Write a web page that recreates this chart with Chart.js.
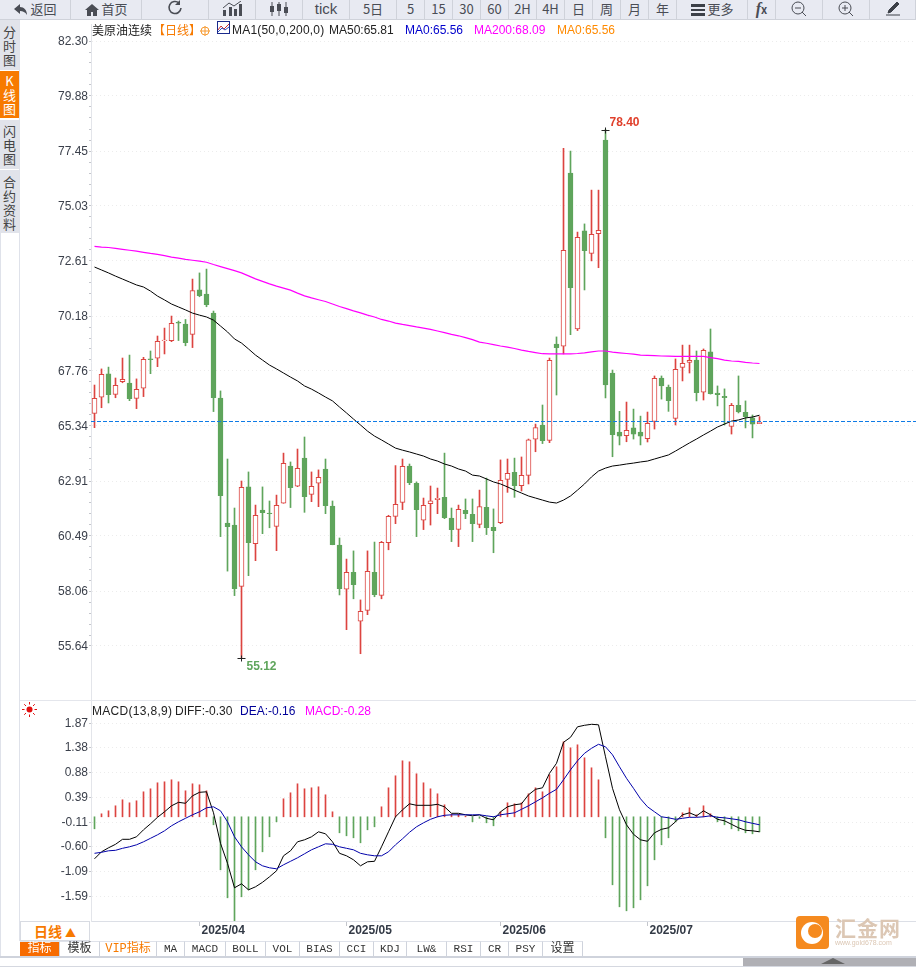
<!DOCTYPE html>
<html lang="zh-CN">
<head>
<meta charset="utf-8">
<title>美原油连续 日线</title>
<script src="https://cdn.jsdelivr.net/npm/chart.js@4/dist/chart.umd.min.js"></script>
<style>
html, body { margin: 0; padding: 0; background: #fff; }
#page { position: relative; width: 916px; height: 971px; overflow: hidden; background: #fff;
    font-family: "Liberation Sans", "Noto Sans CJK SC", sans-serif; font-size: 12px; color: #333; }
#page > * { position: absolute; }
canvas { display: block; }
#priceCanvasBox { left: 20px; top: 19px; width: 897px; height: 681px; }
#macdCanvasBox { left: 20px; top: 700px; width: 897px; height: 241px; }
#toolbar { left: 0; top: 0; width: 916px; height: 19px; background: #e8eaf2; border-bottom: 1px solid #cfd2da; }
.tool { position: absolute; top: 0; height: 19px; line-height: 17px; text-align: center; font-size: 13px;
    color: #4a4d55; border-right: 1px solid #cfd2da; box-sizing: border-box;
    font-family: "Noto Sans CJK SC", "Liberation Sans", sans-serif; }
.tool svg { vertical-align: -2px; }
.side { position: absolute; left: 0; width: 19px; background: #e1e3ea; text-align: center; font-size: 13px; line-height: 14px;
    color: #444; font-family: "Noto Sans CJK SC", sans-serif; box-sizing: border-box; padding: 5px 3px 0; word-break: break-all; }
#sideRule { left: 19px; top: 20px; width: 1px; height: 921px; background: #dfe2ea; }
#sideRuleLeft { left: 0; top: 233px; width: 1px; height: 724px; background: #dfe2ea; }
.legend { white-space: nowrap; line-height: 14px; }
#panelRule { left: 20px; top: 700px; width: 896px; height: 1px; background: #e4e6ec; }
#periodBox { left: 20px; top: 921px; width: 70px; height: 20px; box-sizing: border-box; border: 1px solid #d8dbe2; background: #fff;
    color: #f77a00; font-size: 14px; font-weight: bold; line-height: 19px; text-align: center;
    font-family: "Noto Sans CJK SC", sans-serif; }
.tab { position: absolute; top: 941px; height: 16px; line-height: 14px; box-sizing: border-box; text-align: center;
    border-right: 1px solid #cfd3dc; border-top: 1px solid #dfe2ea; font-size: 11px; color: #333;
    font-family: "Liberation Mono", "Noto Sans CJK SC", monospace; }
#bottomRule { left: 0; top: 956px; width: 916px; height: 2px; background: #cfd3dc; }
#bottomRule2 { left: 0; top: 966px; width: 916px; height: 1px; background: #d5d8e0; }
#scrollThumb { left: 743px; top: 958px; width: 173px; height: 8px; background: #b0b0b5; }
#scrollMark { left: 821px; top: 958px; width: 0; height: 0; border-left: 12px solid transparent; border-right: 12px solid transparent;
    border-bottom: 6px solid #666; }
#brandText { left: 835px; top: 914px; font-size: 21px; letter-spacing: 1px; color: #dcc7b4; font-weight: bold;
    font-family: "Noto Sans CJK SC", sans-serif; white-space: nowrap; line-height: 26px; }
#brandUrl { left: 835px; top: 939px; font-size: 7px; color: #dcc7b4; white-space: nowrap; }
</style>
</head>
<body>
<div id="page">
    <div id="priceCanvasBox"><canvas id="priceChart" width="897" height="681"></canvas></div>
    <div id="macdCanvasBox"><canvas id="macdChart" width="897" height="241"></canvas></div>

    <div id="toolbar"></div>
    <div id="sideRule"></div>
    <div id="sideRuleLeft"></div>
    <div id="sidebar"></div>
    <div id="panelRule"></div>

    <div class="legend" style="left:92px;top:23px;font-family:'Noto Sans CJK SC',sans-serif;color:#222;">美原油连续</div>
    <div class="legend" style="left:153px;top:23px;font-family:'Noto Sans CJK SC',sans-serif;color:#f77a00;">【日线】</div>
    <svg style="left:200px;top:26px;" width="10" height="10" viewBox="0 0 10 10"><circle cx="5" cy="5" r="4" fill="none" stroke="#f79a30"/><path d="M0 5h10M5 0v10" stroke="#f79a30"/></svg>
    <svg style="left:217px;top:21px;" width="13" height="13" viewBox="0 0 13 13"><rect x="0.5" y="0.5" width="12" height="12" fill="#fff" stroke="#1a2a8c"/><path d="M1 9l3-4 3 3 5-5" fill="none" stroke="#d03030"/><path d="M1 11l4-4 3 2 4-3" fill="none" stroke="#3050c0"/></svg>
    <div class="legend" style="left:232px;top:23px;color:#222;letter-spacing:0.2px;">MA1(50,0,200,0)</div>
    <div class="legend" style="left:329px;top:23px;color:#222;">MA50:65.81</div>
    <div class="legend" style="left:405px;top:23px;color:#0000cc;">MA0:65.56</div>
    <div class="legend" style="left:474px;top:23px;color:#ff00ff;">MA200:68.09</div>
    <div class="legend" style="left:557px;top:23px;color:#ff8a00;">MA0:65.56</div>

    <svg style="left:22px;top:702px;" width="15" height="15" viewBox="0 0 15 15"><circle cx="7.5" cy="7.5" r="3" fill="#e01010"/><path d="M7.5 0v2.5M7.5 12.5V15M0 7.5h2.5M12.5 7.5H15M2.2 2.2l1.8 1.8M11 11l1.8 1.8M2.2 12.8L4 11M11 4l1.8-1.8" stroke="#e01010"/></svg>
    <div class="legend" style="left:92px;top:704px;color:#222;letter-spacing:0.3px;">MACD(13,8,9)</div>
    <div class="legend" style="left:175px;top:704px;color:#222;">DIFF:-0.30</div>
    <div class="legend" style="left:240px;top:704px;color:#000099;">DEA:-0.16</div>
    <div class="legend" style="left:305px;top:704px;color:#ff00ff;">MACD:-0.28</div>

    <div id="periodBox">日线 <span style="font-size:11px;">▲</span></div>
    <div id="tabs"></div>
    <div id="bottomRule"></div>
    <div id="bottomRule2"></div>
    <div id="scrollThumb"></div>
    <div id="scrollMark"></div>

    <svg style="left:796px;top:916px;" width="33" height="33" viewBox="0 0 33 33"><rect width="33" height="33" rx="4" fill="#f58a1f"/><circle cx="16" cy="17" r="11" fill="#fff"/><circle cx="19" cy="15" r="7" fill="#f58a1f"/></svg>
    <div id="brandText">汇金网</div>
    <div id="brandUrl">www.gold678.com</div>
</div>

<script>
const dates = [
    "2025/03/11", "2025/03/12", "2025/03/13", "2025/03/14", "2025/03/17", "2025/03/18", "2025/03/19", "2025/03/20",
    "2025/03/21", "2025/03/24", "2025/03/25", "2025/03/26", "2025/03/27", "2025/03/28", "2025/03/31", "2025/04/01",
    "2025/04/02", "2025/04/03", "2025/04/04", "2025/04/07", "2025/04/08", "2025/04/09", "2025/04/10", "2025/04/11",
    "2025/04/14", "2025/04/15", "2025/04/16", "2025/04/17", "2025/04/21", "2025/04/22", "2025/04/23", "2025/04/24",
    "2025/04/25", "2025/04/28", "2025/04/29", "2025/04/30", "2025/05/01", "2025/05/02", "2025/05/05", "2025/05/06",
    "2025/05/07", "2025/05/08", "2025/05/09", "2025/05/12", "2025/05/13", "2025/05/14", "2025/05/15", "2025/05/16",
    "2025/05/19", "2025/05/20", "2025/05/21", "2025/05/22", "2025/05/23", "2025/05/26", "2025/05/27", "2025/05/28",
    "2025/05/29", "2025/05/30", "2025/06/02", "2025/06/03", "2025/06/04", "2025/06/05", "2025/06/06", "2025/06/09",
    "2025/06/10", "2025/06/11", "2025/06/12", "2025/06/13", "2025/06/16", "2025/06/17", "2025/06/18", "2025/06/19",
    "2025/06/20", "2025/06/23", "2025/06/24", "2025/06/25", "2025/06/26", "2025/06/27", "2025/06/30", "2025/07/01",
    "2025/07/02", "2025/07/03", "2025/07/04", "2025/07/07", "2025/07/08", "2025/07/09", "2025/07/10", "2025/07/11",
    "2025/07/14", "2025/07/15", "2025/07/16", "2025/07/17", "2025/07/18", "2025/07/21", "2025/07/22", "2025/07/23"
];

const opens = [
    65.89, 66.60, 67.63, 66.73, 67.29, 67.23, 66.55, 67.00,
    68.29, 68.32, 69.10, 69.10, 69.90, 69.83, 69.37, 71.33,
    71.15, 70.31, 66.57, 61.06, 60.97, 58.27, 62.65, 60.15,
    61.63, 61.50, 60.91, 61.93, 63.57, 62.68, 63.92, 62.32,
    62.81, 63.44, 61.81, 60.09, 58.14, 58.89, 56.73, 57.21,
    58.89, 57.87, 60.19, 61.35, 61.97, 63.57, 62.81, 61.18,
    61.91, 62.09, 62.19, 61.28, 60.78, 61.62, 61.44, 61.00,
    61.75, 60.87, 61.07, 62.98, 63.29, 62.70, 63.16, 64.75,
    65.38, 64.70, 68.95, 68.85, 76.48, 69.61, 73.93, 72.94,
    73.81, 77.94, 67.67, 65.07, 64.91, 65.25, 65.07, 64.78,
    65.54, 67.45, 67.05, 65.67, 67.92, 68.14, 68.24, 66.82,
    68.60, 66.79, 66.64, 65.32, 66.25, 65.94, 65.70, 65.44
];
const closes = [
    66.55, 67.61, 66.72, 67.13, 67.39, 66.54, 66.95, 68.27,
    68.26, 69.07, 69.12, 69.86, 69.87, 69.01, 71.30, 71.08,
    70.68, 66.58, 62.26, 60.90, 58.17, 62.63, 60.19, 61.40,
    61.51, 61.47, 61.84, 63.69, 62.62, 63.47, 62.22, 62.68,
    63.07, 61.82, 60.10, 58.17, 58.89, 58.34, 57.17, 58.93,
    57.90, 60.21, 61.35, 61.88, 63.56, 62.84, 61.65, 61.84,
    62.04, 62.15, 61.29, 60.77, 61.66, 61.47, 61.03, 61.78,
    60.85, 60.72, 62.94, 63.25, 62.70, 63.16, 64.72, 65.26,
    64.69, 68.23, 68.79, 73.08, 71.43, 73.65, 73.06, 73.78,
    73.96, 67.14, 64.95, 64.89, 65.14, 64.98, 64.89, 65.45,
    67.43, 67.10, 66.45, 67.83, 68.10, 68.23, 66.80, 68.67,
    66.76, 66.72, 66.58, 66.25, 65.95, 65.75, 65.41, 65.50
];
const highs = [
    67.14, 67.85, 67.93, 67.45, 68.33, 68.46, 67.41, 68.36,
    68.64, 69.30, 69.65, 70.18, 69.96, 70.03, 71.81, 72.08,
    72.25, 70.40, 66.88, 63.88, 61.72, 62.91, 63.31, 61.85,
    62.65, 62.03, 62.29, 64.14, 63.75, 64.32, 64.85, 63.31,
    63.40, 63.88, 62.03, 60.40, 59.47, 59.83, 57.67, 59.83,
    60.22, 60.25, 61.40, 63.59, 63.88, 63.66, 62.87, 62.16,
    62.69, 62.60, 64.14, 61.72, 61.85, 62.12, 62.12, 62.51,
    63.04, 61.68, 63.84, 63.88, 63.92, 63.97, 64.76, 65.42,
    66.26, 68.33, 69.26, 77.57, 77.45, 73.88, 74.24, 75.73,
    75.73, 78.40, 67.80, 65.98, 66.39, 66.08, 65.77, 65.95,
    67.54, 67.54, 67.14, 68.29, 68.90, 68.90, 68.64, 68.73,
    69.61, 67.10, 66.97, 66.33, 67.54, 66.44, 65.82, 65.75
];
const lows = [
    65.26, 66.14, 66.35, 66.58, 67.24, 66.45, 66.10, 66.63,
    67.64, 67.95, 68.51, 69.05, 69.10, 68.87, 68.79, 71.03,
    70.59, 65.97, 60.46, 58.94, 57.86, 55.12, 58.74, 59.40,
    60.59, 60.85, 59.84, 61.93, 61.74, 62.66, 61.53, 62.00,
    61.78, 61.47, 60.10, 57.89, 56.36, 57.72, 55.30, 57.02,
    57.81, 57.72, 59.88, 61.03, 61.65, 62.75, 60.46, 60.77,
    60.97, 61.47, 61.25, 60.24, 60.02, 61.25, 60.24, 60.85,
    60.55, 59.75, 61.03, 62.41, 62.19, 62.47, 62.78, 64.20,
    64.56, 64.60, 66.70, 68.51, 69.36, 69.54, 71.33, 72.61,
    72.31, 66.57, 63.98, 64.50, 64.64, 64.76, 64.50, 64.63,
    65.20, 66.52, 65.98, 65.38, 67.32, 67.67, 66.44, 66.48,
    66.74, 66.22, 65.38, 64.98, 65.91, 65.25, 64.81, 65.44
];
const ma50 = [
    72.34, 72.21, 72.08, 71.94, 71.81, 71.68, 71.55, 71.46,
    71.28, 71.06, 70.89, 70.71, 70.58, 70.45, 70.31, 70.22,
    70.14, 70.00, 69.74, 69.48, 69.17, 68.99, 68.73, 68.46,
    68.24, 68.02, 67.85, 67.67, 67.49, 67.32, 67.10, 66.96,
    66.79, 66.61, 66.44, 66.17, 65.91, 65.64, 65.38, 65.11,
    64.89, 64.72, 64.54, 64.36, 64.27, 64.19, 64.10, 64.01,
    63.88, 63.79, 63.66, 63.57, 63.44, 63.35, 63.17, 63.13,
    63.00, 62.87, 62.78, 62.65, 62.51, 62.38, 62.25, 62.16,
    62.07, 61.98, 61.94, 62.07, 62.25, 62.51, 62.78, 63.09,
    63.35, 63.48, 63.57, 63.61, 63.66, 63.70, 63.75, 63.79,
    63.88, 63.97, 64.06, 64.23, 64.41, 64.59, 64.76, 64.94,
    65.11, 65.29, 65.42, 65.55, 65.60, 65.69, 65.73, 65.81
];
const ma200 = [
    73.25, 73.22, 73.20, 73.16, 73.12, 73.08, 73.04, 72.99,
    72.94, 72.90, 72.84, 72.78, 72.73, 72.68, 72.64, 72.60,
    72.55, 72.45, 72.36, 72.27, 72.18, 72.08, 71.95, 71.82,
    71.71, 71.60, 71.50, 71.41, 71.32, 71.19, 71.07, 70.98,
    70.90, 70.82, 70.71, 70.60, 70.51, 70.41, 70.32, 70.22,
    70.14, 70.03, 69.96, 69.87, 69.81, 69.76, 69.70, 69.65,
    69.59, 69.52, 69.45, 69.37, 69.31, 69.23, 69.14, 69.03,
    68.98, 68.92, 68.86, 68.81, 68.75, 68.68, 68.62, 68.57,
    68.52, 68.51, 68.51, 68.51, 68.51, 68.53, 68.56, 68.60,
    68.64, 68.64, 68.59, 68.56, 68.53, 68.50, 68.46, 68.45,
    68.44, 68.42, 68.41, 68.40, 68.40, 68.40, 68.40, 68.40,
    68.35, 68.30, 68.24, 68.20, 68.18, 68.14, 68.11, 68.09
];
const macdBars = [
    -0.24, 0.06, 0.12, 0.22, 0.34, 0.28, 0.32, 0.50,
    0.56, 0.68, 0.70, 0.74, 0.70, 0.52, 0.66, 0.64,
    0.52, -0.16, -1.06, -1.62, -2.08, -1.60, -1.46, -1.06,
    -0.70, -0.40, -0.10, 0.36, 0.48, 0.66, 0.56, 0.58,
    0.60, 0.44, 0.10, -0.32, -0.38, -0.42, -0.52, -0.26,
    -0.20, 0.20, 0.58, 0.82, 1.12, 1.10, 0.86, 0.68,
    0.56, 0.46, 0.24, 0.05, 0.05, 0.01, -0.10, -0.03,
    -0.12, -0.18, 0.10, 0.28, 0.26, 0.28, 0.46, 0.58,
    0.50, 0.84, 1.00, 1.50, 1.38, 1.44, 1.18, 0.98,
    0.74, -0.42, -1.36, -1.80, -1.88, -1.82, -1.66, -1.38,
    -0.86, -0.56, -0.42, -0.10, 0.08, 0.18, 0.04, 0.22,
    0.06, -0.10, -0.16, -0.24, -0.28, -0.32, -0.34, -0.30
];
const diffLine = [
    -0.84, -0.70, -0.62, -0.55, -0.45, -0.45, -0.40, -0.26,
    -0.14, -0.01, 0.10, 0.22, 0.29, 0.27, 0.42, 0.49,
    0.50, 0.08, -0.53, -0.93, -1.42, -1.34, -1.46, -1.40,
    -1.31, -1.20, -1.08, -0.78, -0.68, -0.50, -0.46, -0.40,
    -0.30, -0.34, -0.50, -0.73, -0.78, -0.86, -0.98, -0.90,
    -0.89, -0.60, -0.30, 0.00, 0.14, 0.26, 0.23, 0.23,
    0.23, 0.25, 0.20, 0.07, 0.07, 0.04, 0.02, 0.04,
    -0.03, -0.06, 0.10, 0.20, 0.24, 0.26, 0.44, 0.55,
    0.58, 0.87, 1.07, 1.49, 1.59, 1.80, 1.83, 1.85,
    1.84, 1.20, 0.57, 0.14, -0.16, -0.35, -0.46, -0.49,
    -0.32, -0.25, -0.22, -0.10, 0.04, 0.08, 0.02, 0.12,
    0.04, -0.05, -0.08, -0.15, -0.22, -0.27, -0.28, -0.30
];
const deaLine = [
    -0.73, -0.71, -0.68, -0.67, -0.63, -0.60, -0.56, -0.50,
    -0.43, -0.36, -0.28, -0.18, -0.10, -0.03, 0.04, 0.10,
    0.18, 0.20, 0.12, -0.10, -0.40, -0.60, -0.76, -0.90,
    -0.98, -1.02, -1.04, -0.96, -0.89, -0.82, -0.74, -0.66,
    -0.60, -0.54, -0.55, -0.60, -0.63, -0.66, -0.73, -0.76,
    -0.78, -0.78, -0.70, -0.56, -0.44, -0.31, -0.20, -0.12,
    -0.05, 0.00, 0.03, 0.04, 0.04, 0.04, 0.04, 0.04,
    0.02, 0.00, 0.04, 0.06, 0.08, 0.15, 0.22, 0.30,
    0.38, 0.47, 0.55, 0.74, 0.94, 1.12, 1.27, 1.37,
    1.45, 1.40, 1.24, 1.00, 0.77, 0.57, 0.36, 0.20,
    0.10, 0.00, -0.02, -0.05, -0.03, -0.01, -0.01, 0.00,
    0.02, -0.01, -0.02, -0.04, -0.06, -0.10, -0.13, -0.16
];

const priceTicks = [82.30, 79.88, 77.45, 75.03, 72.61, 70.18, 67.76, 65.34, 62.91, 60.49, 58.06, 55.64];
const macdTicks = [1.87, 1.38, 0.88, 0.39, -0.11, -0.60, -1.09, -1.59];
const lastPrice = 65.56;

const upColor = "#dc4440";
const downColor = "#5fa55c";

// empty slots to the right of the last candle
const categories = dates.concat(new Array(22).fill(""));

function buildToolbar() {
    const toolbar = document.getElementById("toolbar");
    const buttons = [
        [0, 71, '<svg width="14" height="12" viewBox="0 0 14 12"><path d="M6 0L0 5l6 5V7c3 0 5 1 7 4 0-5-3-8-7-8z" fill="#4a4d55"/></svg> 返回'],
        [71, 71, '<svg width="14" height="12" viewBox="0 0 14 12"><path d="M7 0L0 6h2v6h4V8h2v4h4V6h2z" fill="#4a4d55"/></svg> 首页'],
        [142, 67, '<svg width="18" height="16" viewBox="0 0 18 16"><path d="M15 8a6 6 0 1 1-2-5" fill="none" stroke="#4a4d55" stroke-width="1.6"/><path d="M14 0v5H9z" fill="#4a4d55"/></svg>'],
        [209, 47, '<svg width="20" height="15" viewBox="0 0 20 15"><path d="M1 15V9h3v6zM7 15V6h3v9zM12 15V8h3v7zM17 15V3h3v12z" fill="#4a4d55"/><path d="M1 7l6-5 5 3 7-5" fill="none" stroke="#4a4d55"/></svg>'],
        [256, 47, '<svg width="20" height="14" viewBox="0 0 20 14"><path d="M3 0v14M10 0v14M17 0v14" stroke="#4a4d55"/><path d="M1 4h4v6H1zM8 2h4v7H8zM15 5h4v6h-4z" fill="#4a4d55"/></svg>'],
        [303, 47, '<span style="font-size:15px;font-family:\'Liberation Sans\'">tick</span>'],
        [350, 47, "5日"], [397, 28, "5"], [425, 28, "15"], [453, 28, "30"], [481, 28, "60"], [509, 28, "2H"],
        [537, 28, "4H"], [565, 28, "日"], [593, 28, "周"], [621, 28, "月"], [649, 28, "年"],
        [677, 71, '<svg width="14" height="12" viewBox="0 0 14 12"><path d="M0 0h14v3H0zM0 5h14v2H0zM0 9h14v3H0z" fill="#3c4048"/></svg> 更多'],
        [748, 28, '<b style="font-style:italic;font-family:\'Liberation Serif\';font-size:16px;">f</b><b style="font-size:11px;">x</b>'],
        [776, 47, '<svg width="16" height="15" viewBox="0 0 16 15"><circle cx="7" cy="7" r="6" fill="none" stroke="#4a4d55"/><path d="M4 7h6M11 11l4 4" stroke="#4a4d55"/></svg>'],
        [823, 47, '<svg width="16" height="15" viewBox="0 0 16 15"><circle cx="7" cy="7" r="6" fill="none" stroke="#4a4d55"/><path d="M4 7h6M7 4v6M11 11l4 4" stroke="#4a4d55"/></svg>'],
        [870, 46, '<svg width="16" height="15" viewBox="0 0 16 15"><path d="M4 9l8-8 2 2-8 8-3 1zM1 14h14" fill="#3c4048" stroke="#3c4048"/></svg>']
    ];
    buttons.forEach(([left, width, html]) => {
        const el = document.createElement("div");
        el.className = "tool";
        el.style.left = left + "px";
        el.style.width = width + "px";
        el.innerHTML = html;
        toolbar.appendChild(el);
    });
}

function buildSidebar() {
    const sidebar = document.getElementById("sidebar");
    sidebar.style.left = "0";
    sidebar.style.top = "0";
    const items = [
        ["分时图", 20, 50, "#e1e3ea", "#444", 5],
        ["K线图", 71, 47, "#f77a00", "#fff", 3],
        ["闪电图", 120, 49, "#e1e3ea", "#444", 4],
        ["合约资料", 170, 63, "#e1e3ea", "#444", 5]
    ];
    items.forEach(([text, top, height, bg, color, padTop]) => {
        const el = document.createElement("div");
        el.className = "side";
        el.style.top = top + "px";
        el.style.height = height + "px";
        el.style.background = bg;
        el.style.color = color;
        el.style.paddingTop = padTop + "px";
        el.textContent = text;
        sidebar.appendChild(el);
    });
}

function buildTabs() {
    const page = document.getElementById("tabs");
    page.style.left = "0";
    page.style.top = "0";
    const tabs = [
        ["指标", 20, 40], ["模板", 60, 40], ["VIP指标", 100, 57], ["MA", 157, 28], ["MACD", 185, 41], ["BOLL", 226, 40],
        ["VOL", 266, 34], ["BIAS", 300, 40], ["CCI", 340, 34], ["KDJ", 374, 33], ["LW&", 407, 40], ["RSI", 447, 34],
        ["CR", 481, 28], ["PSY", 509, 34], ["设置", 543, 40]
    ];
    tabs.forEach(([text, left, width]) => {
        const el = document.createElement("div");
        el.className = "tab";
        el.style.left = left + "px";
        el.style.width = width + "px";
        el.textContent = text;
        if (text === "指标") {
            el.style.background = "#f76b00";
            el.style.color = "#fff";
            el.style.fontSize = "12px";
        } else if (text === "VIP指标") {
            el.style.color = "#f77a00";
            el.style.fontSize = "12px";
        } else if (text === "模板" || text === "设置") {
            el.style.fontSize = "12px";
        }
        page.appendChild(el);
    });
}

buildToolbar();
buildSidebar();
buildTabs();

function withMinorTicks(major, parts) {
    const ticks = [];
    major.forEach((value, i) => {
        ticks.push(value);
        if (i < major.length - 1) {
            for (let p = 1; p < parts; p++) {
                ticks.push(value + (major[i + 1] - value) * p / parts);
            }
        }
    });
    return ticks;
}

function yAxisOptions(min, max, tickValues, labelled, labelShift) {
    return {
        min: min,
        max: max,
        afterBuildTicks: (scale) => {
            scale.ticks = tickValues.map((value) => ({ value: value }));
        },
        afterFit: (scale) => {
            // keep the plot area exact, no room reserved for the end labels
            scale.width = 71;
            scale.paddingTop = 0;
            scale.paddingBottom = 0;
        },
        border: { color: "#e3e5ea", width: 1, dash: [1, 3] },
        grid: {
            color: (ctx) => (ctx.tick && labelled.includes(ctx.tick.value) ? "#ececec" : "rgba(0,0,0,0)"),
            tickColor: "#c4c6cc",
            tickLength: 2
        },
        ticks: {
            autoSkip: false,
            padding: 1,
            labelOffset: labelShift,
            color: "#3a3f4a",
            font: { family: "Liberation Sans", size: 12 },
            callback: (value) => (labelled.includes(value) ? value.toFixed(2) : "")
        }
    };
}

function xAxisHidden() {
    return { type: "category", display: false, offset: true, grid: { display: false } };
}

function isMonthStart(index) {
    return index > 0 && index < dates.length && dates[index].slice(0, 7) !== dates[index - 1].slice(0, 7);
}

// dashed last price line, high and low marks
const priceMarks = {
    id: "priceMarks",
    afterDatasetsDraw(chart) {
        const { ctx, chartArea, scales } = chart;
        const y = Math.round(scales.y.getPixelForValue(lastPrice)) + 0.5;
        ctx.save();
        ctx.strokeStyle = "#0f7be6";
        ctx.setLineDash([4, 2]);
        ctx.beginPath();
        ctx.moveTo(chartArea.left, y);
        ctx.lineTo(chartArea.right, y);
        ctx.stroke();
        ctx.setLineDash([]);

        const highest = highs.indexOf(Math.max(...highs));
        const lowest = lows.indexOf(Math.min(...lows));
        const hx = scales.x.getPixelForValue(highest);
        const hy = Math.round(scales.y.getPixelForValue(highs[highest])) + 0.5;
        const lx = scales.x.getPixelForValue(lowest);
        const ly = Math.round(scales.y.getPixelForValue(lows[lowest])) + 0.5;

        ctx.strokeStyle = "#222";
        ctx.beginPath();
        ctx.moveTo(hx - 4, hy);
        ctx.lineTo(hx + 4, hy);
        ctx.moveTo(hx, hy - 3);
        ctx.lineTo(hx, hy + 3);
        ctx.moveTo(lx - 4, ly);
        ctx.lineTo(lx + 4, ly);
        ctx.moveTo(lx, ly - 3);
        ctx.lineTo(lx, ly + 3);
        ctx.stroke();

        ctx.font = "bold 12px 'Liberation Sans'";
        ctx.textBaseline = "middle";
        ctx.fillStyle = "#e0402c";
        ctx.fillText(highs[highest].toFixed(2), hx + 4, hy - 8);
        ctx.fillStyle = "#5fa55c";
        ctx.fillText(lows[lowest].toFixed(2), lx + 5, ly + 8);
        ctx.restore();
    }
};

const candleColors = closes.map((close, i) => (close >= opens[i] ? upColor : downColor));
const bodyFills = closes.map((close, i) => (close >= opens[i] ? "#ffffff" : downColor));

new Chart(document.getElementById("priceChart"), {
    type: "bar",
    data: {
        labels: categories,
        datasets: [
            {
                type: "line",
                label: "MA200",
                data: ma200,
                borderColor: "#ff00ff",
                borderWidth: 1.2,
                pointRadius: 0,
                order: 0
            },
            {
                type: "line",
                label: "MA50",
                data: ma50,
                borderColor: "#000000",
                borderWidth: 1,
                pointRadius: 0,
                order: 0
            },
            {
                label: "body",
                data: opens.map((open, i) => [Math.min(open, closes[i]), Math.max(open, closes[i])]),
                backgroundColor: bodyFills,
                borderColor: candleColors,
                borderWidth: 1,
                borderSkipped: false,
                barThickness: 5,
                grouped: false,
                order: 1
            },
            {
                label: "wick",
                data: lows.map((low, i) => [low, highs[i]]),
                backgroundColor: candleColors,
                borderWidth: 0,
                barThickness: 1,
                grouped: false,
                order: 2
            }
        ]
    },
    options: {
        responsive: false,
        animation: false,
        layout: { padding: { top: 5, left: 0, right: 0, bottom: 0 } },
        plugins: { legend: { display: false }, tooltip: { enabled: false } },
        scales: {
            x: xAxisHidden(),
            y: yAxisOptions(53.26, 83.05, withMinorTicks(priceTicks, 5), priceTicks, 1)
        }
    },
    plugins: [priceMarks]
});

new Chart(document.getElementById("macdChart"), {
    type: "bar",
    data: {
        labels: categories,
        datasets: [
            {
                type: "line",
                label: "DEA",
                data: deaLine,
                borderColor: "#0000aa",
                borderWidth: 1,
                pointRadius: 0,
                order: 0
            },
            {
                type: "line",
                label: "DIFF",
                data: diffLine,
                borderColor: "#000000",
                borderWidth: 1,
                pointRadius: 0,
                order: 0
            },
            {
                label: "MACD",
                data: macdBars,
                backgroundColor: macdBars.map((value) => (value >= 0 ? upColor : downColor)),
                borderWidth: 0,
                barThickness: 1,
                order: 1
            }
        ]
    },
    options: {
        responsive: false,
        animation: false,
        layout: { padding: 0 },
        plugins: { legend: { display: false }, tooltip: { enabled: false } },
        scales: {
            x: {
                type: "category",
                offset: true,
                afterFit: (scale) => {
                    scale.height = 20;
                },
                border: { color: "#dcdfe6" },
                grid: {
                    offset: false,
                    drawOnChartArea: false,
                    tickLength: 5,
                    tickColor: (ctx) => (ctx.tick && isMonthStart(ctx.index) ? "#c4c6cc" : "rgba(0,0,0,0)")
                },
                ticks: {
                    autoSkip: false,
                    maxRotation: 0,
                    align: "start",
                    labelOffset: 2,
                    padding: -3,
                    color: "#333a46",
                    font: { family: "Liberation Sans", size: 12, weight: "bold" },
                    callback: (value, index) => (isMonthStart(index) ? dates[index].slice(0, 7) : "")
                }
            },
            y: yAxisOptions(-2.084, 2.336, macdTicks, macdTicks, 0)
        }
    }
});
</script>
</body>
</html>
